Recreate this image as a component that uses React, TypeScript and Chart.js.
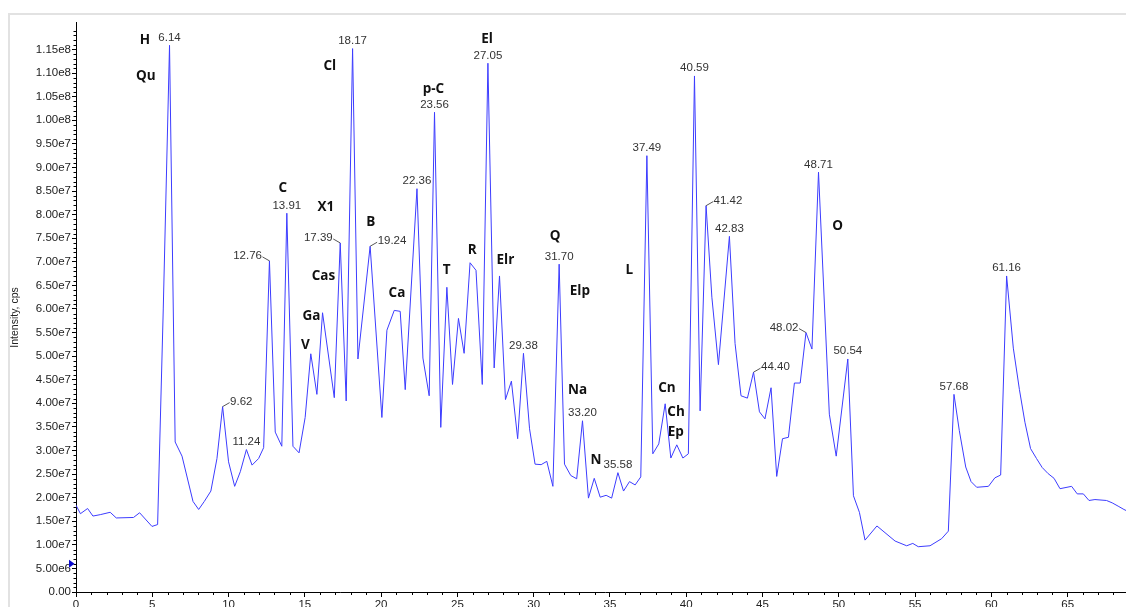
import React, { useEffect, useRef } from "react";
import { Chart, registerables } from "chart.js";

Chart.register(...registerables);

// Retention time (min) of each sampled point of the TIC trace
const retentionTimes = [
  0.0, 0.29, 0.76, 1.11, 1.59, 2.24, 2.64, 3.77, 4.17, 4.98,
  5.35, 5.72, 6.13, 6.5, 6.95, 7.67, 8.04, 8.41, 8.84, 9.24,
  9.61, 10.0, 10.4, 10.77, 11.17, 11.54, 11.97, 12.3, 12.68, 13.06,
  13.49, 13.82, 14.22, 14.62, 15.02, 15.39, 15.79, 16.16, 16.93, 17.32,
  17.71, 18.13, 18.48, 19.28, 20.05, 20.38, 20.86, 21.25, 21.58, 22.35,
  22.74, 23.15, 23.5, 23.91, 24.31, 24.68, 25.07, 25.44, 25.83, 26.22,
  26.63, 27.0, 27.41, 27.76, 28.15, 28.54, 28.95, 29.33, 29.73, 30.09,
  30.49, 30.86, 31.26, 31.67, 32.02, 32.43, 32.82, 33.2, 33.59, 33.97,
  34.36, 34.75, 35.11, 35.52, 35.89, 36.28, 36.65, 37.02, 37.42, 37.81,
  38.2, 38.62, 38.99, 39.38, 39.78, 40.14, 40.54, 40.91, 41.3, 41.68,
  42.11, 42.83, 43.2, 43.59, 44.01, 44.41, 44.8, 45.16, 45.56, 45.93,
  46.31, 46.7, 47.09, 47.47, 47.85, 48.24, 48.67, 49.38, 49.83, 50.59,
  50.96, 51.35, 51.72, 52.5, 53.69, 54.45, 54.85, 55.21, 55.98, 56.74,
  57.18, 57.55, 57.9, 58.32, 58.67, 59.04, 59.81, 60.23, 60.61, 61.0,
  61.44, 61.84, 62.2, 62.57, 62.96, 63.33, 63.72, 64.11, 64.5, 65.26,
  65.63, 66.03, 66.4, 66.79, 67.55, 67.92, 68.31, 68.69, 69.07, 69.34,
];

// Intensity (cps) at each sampled point
const intensities = [
  18.4e6, 16.6e6, 17.7e6, 16.1e6, 16.4e6, 16.9e6, 15.7e6, 15.8e6, 16.8e6, 13.9e6,
  14.3e6, 60.0e6, 115.9e6, 31.8e6, 28.8e6, 19.2e6, 17.5e6, 19.2e6, 21.4e6, 28.3e6,
  39.3e6, 27.6e6, 22.4e6, 25.5e6, 30.2e6, 26.9e6, 28.3e6, 30.6e6, 70.2e6, 33.9e6,
  30.9e6, 80.3e6, 30.9e6, 29.5e6, 37.0e6, 50.5e6, 41.9e6, 59.2e6, 41.2e6, 74.0e6,
  40.5e6, 115.2e6, 49.4e6, 73.3e6, 37.0e6, 55.5e6, 59.7e6, 59.5e6, 42.9e6, 85.5e6,
  49.6e6, 41.6e6, 101.7e6, 34.9e6, 64.6e6, 44.0e6, 58.0e6, 50.6e6, 69.8e6, 68.2e6,
  44.0e6, 112.1e6, 47.5e6, 67.0e6, 40.8e6, 44.7e6, 32.5e6, 50.6e6, 34.6e6, 27.1e6,
  27.0e6, 27.7e6, 22.4e6, 69.5e6, 27.1e6, 24.7e6, 24.0e6, 36.3e6, 19.9e6, 24.1e6,
  20.1e6, 20.5e6, 19.9e6, 25.3e6, 21.4e6, 23.4e6, 22.7e6, 24.4e6, 92.5e6, 29.3e6,
  31.4e6, 39.9e6, 28.4e6, 31.2e6, 28.4e6, 29.3e6, 109.4e6, 38.4e6, 81.9e6, 62.5e6,
  48.2e6, 75.4e6, 52.7e6, 41.6e6, 41.1e6, 46.6e6, 38.2e6, 36.7e6, 43.3e6, 24.5e6,
  32.5e6, 32.8e6, 44.3e6, 44.3e6, 55.0e6, 51.5e6, 89.0e6, 37.7e6, 28.8e6, 49.4e6,
  20.4e6, 16.9e6, 11.0e6, 14.0e6, 10.8e6, 9.8e6, 10.3e6, 9.6e6, 9.8e6, 11.3e6,
  12.9e6, 41.9e6, 34.2e6, 26.5e6, 23.4e6, 22.2e6, 22.4e6, 24.2e6, 24.8e6, 67.0e6,
  51.7e6, 42.9e6, 36.0e6, 30.4e6, 28.3e6, 26.4e6, 25.1e6, 24.1e6, 21.9e6, 22.4e6,
  20.8e6, 20.8e6, 19.4e6, 19.6e6, 19.4e6, 18.9e6, 18.2e6, 17.5e6, 16.9e6, 17.5e6,
];

// Retention-time labels printed on the peaks
const peakLabels = [
  "6.14", "9.62", "11.24", "12.76", "13.91", "17.39", "18.17", "19.24", "22.36",
  "23.56", "27.05", "29.38", "31.70", "33.20", "35.58", "37.49", "40.59", "41.42",
  "42.83", "44.40", "48.02", "48.71", "50.54", "57.68", "61.16",
];

// Compound abbreviations and their anchor (time, intensity)
const compoundNames = [
  "H", "Qu", "Cl", "C", "X1", "B", "Cas", "Ga", "V", "Ca", "p-C", "El",
  "T", "R", "Elr", "Q", "Elp", "Na", "N", "L", "Cn", "Ch", "Ep", "O",
];
const compoundTimes = [
  4.52, 4.57, 16.64, 13.55, 16.37, 19.32, 16.22, 15.44, 15.03, 21.04, 23.43, 26.95,
  24.29, 25.97, 28.15, 31.41, 33.03, 32.88, 34.08, 36.27, 38.73, 39.33, 39.31, 49.92,
];
const compoundIntensities = [
  117.0e6, 109.3e6, 111.4e6, 85.6e6, 81.6e6, 78.4e6, 67.0e6, 58.4e6, 52.3e6, 63.3e6, 106.6e6, 117.3e6,
  68.3e6, 72.4e6, 70.3e6, 75.5e6, 63.7e6, 42.7e6, 27.9e6, 68.2e6, 43.2e6, 38.1e6, 33.9e6, 77.5e6,
];

// Axis tick values
const xTickValues = [0, 5, 10, 15, 20, 25, 30, 35, 40, 45, 50, 55, 60, 65];
const yTickValues = [
  0, 5e6, 10e6, 15e6, 20e6, 25e6, 30e6, 35e6, 40e6, 45e6, 50e6, 55e6, 60e6,
  65e6, 70e6, 75e6, 80e6, 85e6, 90e6, 95e6, 100e6, 105e6, 110e6, 115e6,
];

const yAxisTitle = "Intensity, cps";
const xAxisTitle = "Time, min";

const FONT = '"Liberation Sans", Arial, Helvetica, sans-serif';
const BOLD_FONT = '"Open Sans", "Noto Sans", sans-serif';
const LEFT_LEADER = new Set(["12.76", "17.39", "48.02"]);
const RIGHT_LEADER = new Set(["9.62", "19.24", "41.42", "44.40"]);

function fmtY(v: number): string {
  if (v === 0) return "0.00";
  return v.toExponential(2).replace("e+", "e");
}

const annotationPlugin = {
  id: "annotations",
  afterDraw(chart: any) {
    const { ctx, chartArea, scales } = chart;
    const xs = scales.x;
    const ys = scales.y;
    ctx.save();

    // minor ticks
    ctx.strokeStyle = "#000";
    ctx.lineWidth = 1;
    ctx.beginPath();
    for (let t = 1; t <= Math.floor(xs.max); t++) {
      if (t % 5 === 0) continue;
      const px = Math.round(xs.getPixelForValue(t)) + 0.5;
      ctx.moveTo(px, chartArea.bottom);
      ctx.lineTo(px, chartArea.bottom + 3);
    }
    for (let k = 1; k * 1e6 <= ys.max; k++) {
      if (k % 5 === 0) continue;
      const py = Math.round(ys.getPixelForValue(k * 1e6)) + 0.5;
      ctx.moveTo(chartArea.left - 2.5, py);
      ctx.lineTo(chartArea.left, py);
    }
    ctx.stroke();

    // start marker
    const my = ys.getPixelForValue(6.0e6);
    ctx.fillStyle = "#0a0ad0";
    ctx.beginPath();
    ctx.moveTo(chartArea.left - 7, my - 4);
    ctx.lineTo(chartArea.left - 7, my + 4);
    ctx.lineTo(chartArea.left - 1.5, my);
    ctx.closePath();
    ctx.fill();

    // peak retention-time labels
    ctx.font = `11.5px ${FONT}`;
    ctx.fillStyle = "#333";
    ctx.strokeStyle = "#555";
    for (const lab of peakLabels) {
      const T = parseFloat(lab);
      let best = -1;
      for (let i = 0; i < retentionTimes.length; i++) {
        if (Math.abs(retentionTimes[i] - T) <= 0.45) {
          if (best < 0 || intensities[i] > intensities[best]) best = i;
        }
      }
      if (best < 0) continue;
      const px = xs.getPixelForValue(retentionTimes[best]);
      const py = ys.getPixelForValue(intensities[best]);
      if (LEFT_LEADER.has(lab)) {
        ctx.beginPath();
        ctx.moveTo(px, py);
        ctx.lineTo(px - 7, py - 4);
        ctx.stroke();
        ctx.textAlign = "right";
        ctx.textBaseline = "middle";
        ctx.fillText(lab, px - 7.5, py - 5);
      } else if (RIGHT_LEADER.has(lab)) {
        ctx.beginPath();
        ctx.moveTo(px, py);
        ctx.lineTo(px + 7, py - 4);
        ctx.stroke();
        ctx.textAlign = "left";
        ctx.textBaseline = "middle";
        ctx.fillText(lab, px + 7.5, py - 5);
      } else {
        ctx.textAlign = "center";
        ctx.textBaseline = "bottom";
        ctx.fillText(lab, px, py - 2);
      }
    }

    // compound labels
    ctx.font = `bold 13.5px ${BOLD_FONT}`;
    ctx.fillStyle = "#111";
    ctx.textAlign = "center";
    ctx.textBaseline = "middle";
    compoundNames.forEach((name, i) => {
      const px = xs.getPixelForValue(compoundTimes[i]);
      const py = ys.getPixelForValue(compoundIntensities[i]);
      ctx.fillText(name, px, py);
    });

    // axis titles
    ctx.fillStyle = "#222";
    ctx.font = `10.5px ${FONT}`;
    ctx.save();
    ctx.translate(5, (chartArea.top + chartArea.bottom) / 2 + 10);
    ctx.rotate(-Math.PI / 2);
    ctx.textAlign = "center";
    ctx.textBaseline = "middle";
    ctx.fillText(yAxisTitle, 0, 0);
    ctx.restore();

    ctx.font = `11.5px ${FONT}`;
    ctx.textAlign = "center";
    ctx.textBaseline = "top";
    ctx.fillText(xAxisTitle, xs.getPixelForValue(34.9), chartArea.bottom + 17);

    ctx.restore();
  },
};

export default function App() {
  const canvasRef = useRef<HTMLCanvasElement | null>(null);

  useEffect(() => {
    const canvas = canvasRef.current;
    if (!canvas) return;
    const points = retentionTimes.map((t, i) => ({ x: t, y: intensities[i] }));
    const chart = new Chart(canvas, {
      type: "line",
      data: {
        datasets: [
          {
            data: points,
            borderColor: "rgb(60,60,255)",
            borderWidth: 1,
            pointRadius: 0,
            tension: 0,
            fill: false,
          },
        ],
      },
      options: {
        animation: false,
        responsive: false,
        maintainAspectRatio: false,
        layout: { padding: { top: 1, left: 0, right: 0, bottom: 0 } },
        plugins: {
          legend: { display: false },
          tooltip: { enabled: false },
          title: { display: false },
        },
        scales: {
          x: {
            type: "linear",
            min: 0,
            max: 69.35,
            afterFit: (s: any) => {
              s.height = 43;
            },
            afterBuildTicks: (s: any) => {
              s.ticks = xTickValues.map((v) => ({ value: v }));
            },
            ticks: {
              autoSkip: false,
              maxRotation: 0,
              padding: 1,
              color: "#222",
              font: { family: FONT, size: 11.5 },
              callback: (v: any) => String(v),
            },
            grid: {
              display: true,
              drawOnChartArea: false,
              drawTicks: true,
              tickLength: 5,
              color: "#000",
            },
            border: { display: true, color: "#000", width: 1 },
          },
          y: {
            type: "linear",
            min: 0,
            max: 1.2065e8,
            afterFit: (s: any) => {
              s.width = 66;
            },
            afterBuildTicks: (s: any) => {
              s.ticks = yTickValues.map((v) => ({ value: v }));
            },
            ticks: {
              autoSkip: false,
              padding: 1,
              color: "#222",
              font: { family: FONT, size: 11.5 },
              callback: (v: any) => fmtY(Number(v)),
            },
            grid: {
              display: true,
              drawOnChartArea: false,
              drawTicks: true,
              tickLength: 4,
              color: "#000",
            },
            border: { display: true, color: "#000", width: 1 },
          },
        },
      },
      plugins: [annotationPlugin],
    });
    return () => chart.destroy();
  }, []);

  return (
    <div style={{ paddingTop: 5 }}>
      <div
        style={{
          boxSizing: "border-box",
          height: 602,
          marginRight: -8,
          marginBottom: -8,
          borderTop: "2px solid #e2e2e2",
          borderLeft: "2px solid #e2e2e2",
          overflow: "hidden",
          background: "#fff",
        }}
      >
        <canvas ref={canvasRef} width={1124} height={620} style={{ display: "block" }} />
      </div>
    </div>
  );
}
